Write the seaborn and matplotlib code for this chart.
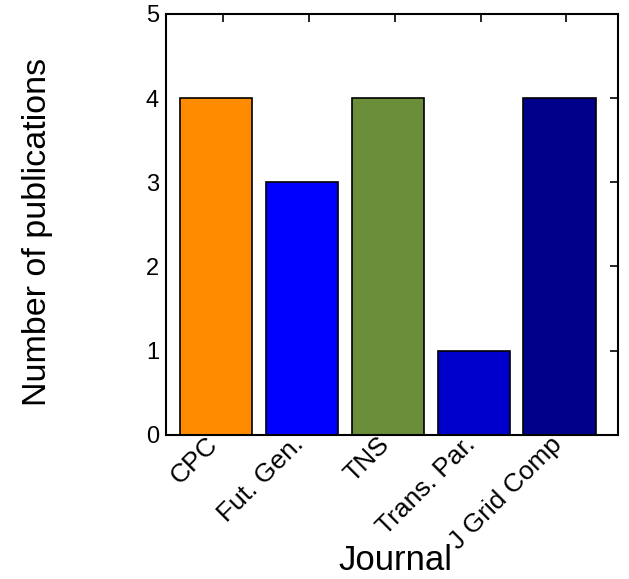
import matplotlib
matplotlib.use("Agg")
import matplotlib.pyplot as plt
import seaborn as sns
import pandas as pd

journals = ["CPC", "Fut. Gen.", "TNS", "Trans. Par.", "J Grid Comp"]
publications = [4, 3, 4, 1, 4]
bar_colors = ["#FF8C00", "#0000FF", "#6B8E3A", "#0000CD", "#00008B"]

sns.set_style("white")
plt.rcParams['font.family'] = ['Liberation Sans', 'DejaVu Sans']
plt.rcParams['text.color'] = 'black'
plt.rcParams['axes.labelcolor'] = 'black'
plt.rcParams['xtick.color'] = 'black'
plt.rcParams['ytick.color'] = 'black'

df = pd.DataFrame({"journal": journals, "count": publications})

fig = plt.figure(figsize=(6.29, 5.79), dpi=100)
ax = fig.add_axes([0.264, 0.249, 0.7185, 0.727])

sns.barplot(data=df, x="journal", y="count", hue="journal",
            palette=bar_colors, legend=False, width=0.84,
            edgecolor="black", linewidth=1.2, saturation=1, ax=ax)

ax.set_xlim(-0.58, 4.68)
ax.set_ylim(0, 5)
ax.set_yticks(range(6))
# ticks sit a little right of the bar centres in the original
ax.set_xticks([i + 0.08 for i in range(len(journals))])
ax.set_xticklabels(journals, rotation=45, ha="right", va="top", fontsize=19)

ax.tick_params(axis="y", labelsize=17, direction="in", right=True,
               length=6, width=1.2, pad=5)
ax.tick_params(axis="x", direction="in", top=True, length=6, width=1.2, pad=-2)

for s in ax.spines.values():
    s.set_visible(True)
    s.set_linewidth(1.5)
    s.set_color("black")

ax.set_xlabel("Journal", fontsize=25)
ax.set_ylabel("Number of publications", fontsize=24.5)
ax.xaxis.set_label_coords(0.507, -0.26)
ax.yaxis.set_label_coords(-0.25, 0.481)

fig.savefig("out.png", dpi=100)
